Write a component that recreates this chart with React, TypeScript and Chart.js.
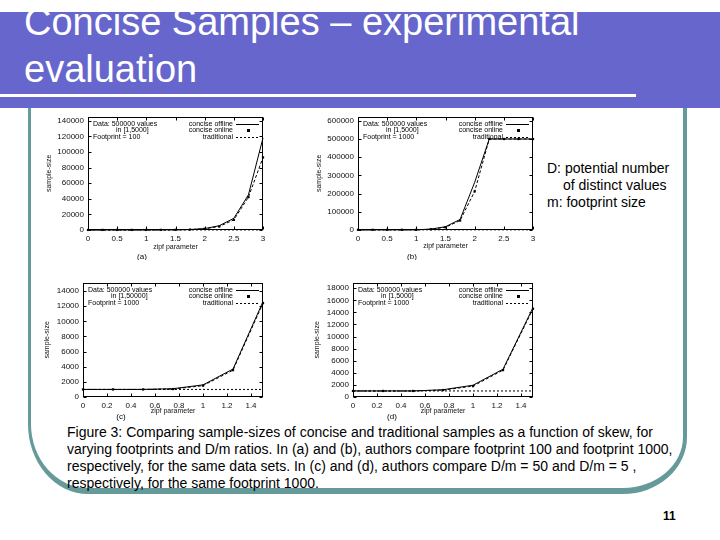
import React, { useEffect, useRef } from "react";
import { Chart, registerables } from "chart.js";
Chart.register(...registerables);

const FONT = "'Liberation Sans', Arial, Helvetica, sans-serif";

// ---- shared labels ----
const legendLabels = ["concise offline", "concise online", "traditional"];
const xAxisTitle = "zipf parameter";
const yAxisTitle = "sample-size";

// ---- panel (a) ----
const zipfAB = [0, 0.25, 0.5, 0.75, 1, 1.25, 1.5, 1.75, 2, 2.25, 2.5, 2.75, 3];
const offlineA = [100, 100, 100, 100, 110, 150, 250, 600, 1800, 5500, 15000, 45000, 118000];
const onlineA = [100, 100, 100, 100, 110, 150, 250, 550, 1600, 4500, 13000, 42000, 93000];
const traditionalA = [100, 100, 100, 100, 100, 100, 100, 100, 100, 100, 100, 100, 100];
const xTicksAB = [0, 0.5, 1, 1.5, 2, 2.5, 3];
const yTicksA = [0, 20000, 40000, 60000, 80000, 100000, 120000, 140000];
const notesA = ["Data: 500000 values", "in [1,5000]", "Footprint = 100"];

// ---- panel (b) ----
const offlineB = [1000, 1000, 1000, 1000, 1200, 5000, 18000, 58000, 262000, 500000, 500000, 500000, 500000];
const onlineB = [1000, 1000, 1000, 1000, 1100, 4000, 15000, 52000, 212000, 500000, 500000, 500000, 500000];
const traditionalB = [1000, 1000, 1000, 1000, 1000, 1000, 1000, 1000, 1000, 1000, 1000, 1000, 1000];
const yTicksB = [0, 100000, 200000, 300000, 400000, 500000, 600000];
const notesB = ["Data: 500000 values", "in [1,5000]", "Footprint = 1000"];

// ---- panel (c) ----
const zipfCD = [0, 0.25, 0.5, 0.75, 1, 1.25, 1.5];
const offlineC = [1000, 1000, 1000, 1100, 1600, 3700, 12600];
const onlineC = [1000, 1000, 1000, 1050, 1500, 3550, 12400];
const traditionalC = [1000, 1000, 1000, 1000, 1000, 1000, 1000];
const xTicksCD = [0, 0.2, 0.4, 0.6, 0.8, 1, 1.2, 1.4];
const yTicksC = [0, 2000, 4000, 6000, 8000, 10000, 12000, 14000];
const notesC = ["Data: 500000 values", "in [1,50000]", "Footprint = 1000"];

// ---- panel (d) ----
const offlineD = [1000, 1000, 1000, 1200, 1950, 4600, 14800];
const onlineD = [1000, 1000, 1000, 1150, 1800, 4450, 14600];
const traditionalD = [1000, 1000, 1000, 1000, 1000, 1000, 1000];
const yTicksD = [0, 2000, 4000, 6000, 8000, 10000, 12000, 14000, 16000, 18000];
const notesD = ["Data: 500000 values", "in [1,5000]", "Footprint = 1000"];

const captionLines = [
  "Figure 3: Comparing sample-sizes of concise and traditional samples as a function of skew, for",
  "varying footprints and D/m ratios. In (a) and (b), authors compare footprint 100 and footprint 1000,",
  "respectively, for the same data sets. In (c) and (d), authors compare D/m = 50 and D/m = 5 ,",
  "respectively, for the same footprint 1000.",
];

type Box = { left: number; top: number; width: number; height: number };
type Area = { l: number; t: number; r: number; b: number };

type PanelProps = {
  box: Box;
  area: Area;
  xs: number[];
  offline: number[];
  online: number[];
  traditional: number[];
  xMax: number;
  yMax: number;
  xTicks: number[];
  yTicks: number[];
  notes: string[];
  tag: string;
  tagPos: [number, number];
  yTitleX: number;
  xTitleY: number;
};

function Panel(p: PanelProps) {
  const ref = useRef<HTMLCanvasElement | null>(null);
  useEffect(() => {
    const cv = ref.current;
    if (!cv) return;
    const { box, area } = p;
    const pts = (ys: number[]) => p.xs.map((x, i) => ({ x, y: ys[i] }));
    const decor = {
      id: "decor",
      afterDatasetsDraw(chart: any) {
        const ctx = chart.ctx as CanvasRenderingContext2D;
        const a = chart.chartArea;
        const sx = chart.scales.x;
        const sy = chart.scales.y;
        ctx.save();
        ctx.strokeStyle = "#000";
        ctx.lineWidth = 1;
        ctx.setLineDash([]);
        const L = Math.round(a.left) + 0.5;
        const T = Math.round(a.top) + 0.5;
        const R = Math.round(a.right) - 0.5;
        const B = Math.round(a.bottom) - 0.5;
        ctx.strokeRect(L, T, R - L, B - T);
        ctx.beginPath();
        for (const v of p.xTicks) {
          const px = Math.round(sx.getPixelForValue(v)) + 0.5;
          ctx.moveTo(px, B);
          ctx.lineTo(px, B - 3);
          ctx.moveTo(px, T);
          ctx.lineTo(px, T + 3);
        }
        for (const v of p.yTicks) {
          const py = Math.round(sy.getPixelForValue(v)) + 0.5;
          ctx.moveTo(L, py);
          ctx.lineTo(L + 3, py);
          ctx.moveTo(R, py);
          ctx.lineTo(R - 3, py);
        }
        ctx.stroke();
        // legend
        ctx.fillStyle = "#000";
        ctx.font = `7px ${FONT}`;
        ctx.textBaseline = "middle";
        ctx.textAlign = "right";
        const rowY = (i: number) => a.top + 7 + i * 6.4;
        legendLabels.forEach((lab, i) => ctx.fillText(lab, a.right - 30, rowY(i)));
        const s1 = a.right - 27;
        const s2 = a.right - 4;
        ctx.beginPath();
        ctx.moveTo(s1, Math.round(rowY(0)) + 0.5);
        ctx.lineTo(s2, Math.round(rowY(0)) + 0.5);
        ctx.stroke();
        ctx.fillRect(Math.round((s1 + s2) / 2) - 1, Math.round(rowY(1)) - 1, 3, 3);
        ctx.setLineDash([2, 2]);
        ctx.beginPath();
        ctx.moveTo(s1, Math.round(rowY(2)) + 0.5);
        ctx.lineTo(s2, Math.round(rowY(2)) + 0.5);
        ctx.stroke();
        ctx.setLineDash([]);
        // notes
        ctx.textAlign = "left";
        ctx.fillText(p.notes[0], a.left + 5, rowY(0));
        ctx.fillText(p.notes[1], a.left + 28, rowY(1));
        ctx.fillText(p.notes[2], a.left + 5, rowY(2));
        // sub-figure tag
        ctx.textAlign = "center";
        ctx.font = `8px ${FONT}`;
        ctx.fillText(p.tag, p.tagPos[0] - box.left, p.tagPos[1] - box.top);
        ctx.restore();
      },
    };
    const tickFont = { family: FONT, size: 8 };
    const titleFont = { family: FONT, size: 7 };
    const chart = new Chart(cv, {
      type: "scatter",
      data: {
        datasets: [
          {
            label: legendLabels[0],
            data: pts(p.offline),
            showLine: true,
            borderColor: "#000",
            borderWidth: 1,
            pointRadius: 0,
            clip: false,
          },
          {
            label: legendLabels[1],
            data: pts(p.online),
            showLine: true,
            borderColor: "#000",
            borderWidth: 1,
            borderDash: [3, 2],
            pointStyle: "rect",
            pointRadius: 1.6,
            pointBackgroundColor: "#000",
            pointBorderColor: "#000",
            pointBorderWidth: 0,
            clip: false,
          },
          {
            label: legendLabels[2],
            data: pts(p.traditional),
            showLine: true,
            borderColor: "#000",
            borderWidth: 1,
            borderDash: [2, 2],
            pointRadius: 0,
            clip: false,
          },
        ],
      } as any,
      options: {
        responsive: false,
        animation: false,
        events: [],
        layout: {
          padding: {
            left: 0,
            top: area.t - box.top,
            right: box.left + box.width - area.r,
            bottom: 0,
          },
        },
        plugins: { legend: { display: false }, tooltip: { enabled: false } },
        scales: {
          x: {
            type: "linear",
            min: 0,
            max: p.xMax,
            afterBuildTicks: (s: any) => {
              s.ticks = p.xTicks.map((v) => ({ value: v }));
            },
            afterFit: (s: any) => {
              s.height = box.top + box.height - area.b;
            },
            grid: { display: false, drawTicks: false, tickLength: 0 },
            border: { display: false },
            ticks: {
              font: tickFont,
              color: "#111",
              padding: 4,
              maxRotation: 0,
              autoSkip: false,
              callback: (v: any) => String(v),
            },
            title: {
              display: true,
              text: xAxisTitle,
              font: titleFont,
              color: "#111",
              padding: { top: 0, bottom: box.top + box.height - p.xTitleY - 4.2 },
            },
          },
          y: {
            type: "linear",
            min: 0,
            max: p.yMax,
            afterBuildTicks: (s: any) => {
              s.ticks = p.yTicks.map((v) => ({ value: v }));
            },
            afterFit: (s: any) => {
              s.width = area.l - box.left;
            },
            grid: { display: false, drawTicks: false, tickLength: 0 },
            border: { display: false },
            ticks: {
              font: tickFont,
              color: "#111",
              padding: 4,
              autoSkip: false,
              callback: (v: any) => String(v),
            },
            title: {
              display: true,
              text: yAxisTitle,
              font: titleFont,
              color: "#111",
              padding: { top: p.yTitleX - box.left - 4.2, bottom: 0 },
            },
          },
        },
      } as any,
      plugins: [decor],
    });
    return () => chart.destroy();
  }, []);
  return (
    <canvas
      ref={ref}
      width={p.box.width}
      height={p.box.height}
      style={{
        position: "absolute",
        left: p.box.left,
        top: p.box.top,
        width: p.box.width,
        height: p.box.height,
      }}
    />
  );
}

export default function App() {
  const blue = "#6666cc";
  const teal = "#669999";
  return (
    <div
      style={{
        position: "absolute",
        left: 0,
        top: 0,
        width: 720,
        height: 540,
        background: "#fff",
        overflow: "hidden",
        fontFamily: FONT,
      }}
    >
      <div style={{ position: "absolute", left: 0, top: 12, width: 720, height: 96, background: blue }} />
      <div style={{ position: "absolute", left: 0, top: 94, width: 636, height: 3, background: "#fff" }} />
      <div
        style={{
          position: "absolute",
          left: 24,
          top: -1,
          color: "#fff",
          fontSize: 38,
          lineHeight: "47px",
          whiteSpace: "nowrap",
        }}
      >
        <div>Concise Samples – experimental</div>
        <div>evaluation</div>
      </div>
      <div
        style={{
          position: "absolute",
          left: 28,
          top: 108,
          width: 687 - 28,
          height: 494 - 108,
          boxSizing: "border-box",
          borderLeft: `3px solid ${teal}`,
          borderRight: `4px solid ${teal}`,
          borderBottom: `6px solid ${teal}`,
          borderBottomLeftRadius: "60px 70px",
          borderBottomRightRadius: "64px 57px",
        }}
      />
      <Panel
        box={{ left: 40, top: 108, width: 232, height: 152 }}
        area={{ l: 88, t: 116, r: 263, b: 230 }}
        xs={zipfAB}
        offline={offlineA}
        online={onlineA}
        traditional={traditionalA}
        xMax={3}
        yMax={145000}
        xTicks={xTicksAB}
        yTicks={yTicksA}
        notes={notesA}
        tag="(a)"
        tagPos={[142, 257]}
        yTitleX={49}
        xTitleY={247}
      />
      <Panel
        box={{ left: 310, top: 108, width: 232, height: 152 }}
        area={{ l: 358, t: 116, r: 533, b: 230 }}
        xs={zipfAB}
        offline={offlineB}
        online={onlineB}
        traditional={traditionalB}
        xMax={3}
        yMax={622000}
        xTicks={xTicksAB}
        yTicks={yTicksB}
        notes={notesB}
        tag="(b)"
        tagPos={[412, 257]}
        yTitleX={319}
        xTitleY={246}
      />
      <Panel
        box={{ left: 40, top: 274, width: 232, height: 148 }}
        area={{ l: 83, t: 282, r: 263, b: 397 }}
        xs={zipfCD}
        offline={offlineC}
        online={onlineC}
        traditional={traditionalC}
        xMax={1.5}
        yMax={15100}
        xTicks={xTicksCD}
        yTicks={yTicksC}
        notes={notesC}
        tag="(c)"
        tagPos={[121, 417]}
        yTitleX={47}
        xTitleY={411}
      />
      <Panel
        box={{ left: 310, top: 274, width: 232, height: 148 }}
        area={{ l: 353, t: 281, r: 533, b: 397 }}
        xs={zipfCD}
        offline={offlineD}
        online={onlineD}
        traditional={traditionalD}
        xMax={1.5}
        yMax={18900}
        xTicks={xTicksCD}
        yTicks={yTicksD}
        notes={notesD}
        tag="(d)"
        tagPos={[392, 417]}
        yTitleX={317}
        xTitleY={411}
      />
      <div
        style={{
          position: "absolute",
          left: 547,
          top: 159.5,
          fontSize: 14,
          lineHeight: "17px",
          color: "#000",
          whiteSpace: "nowrap",
        }}
      >
        <div>D: potential number</div>
        <div style={{ paddingLeft: 16 }}>of distinct values</div>
        <div>m: footprint size</div>
      </div>
      <div
        style={{
          position: "absolute",
          left: 67,
          top: 423.5,
          fontSize: 14,
          lineHeight: "17.3px",
          color: "#000",
          whiteSpace: "nowrap",
        }}
      >
        {captionLines.map((t, i) => (
          <div key={i}>{t}</div>
        ))}
      </div>
      <div
        style={{
          position: "absolute",
          left: 663,
          top: 508,
          fontSize: 12,
          fontWeight: "bold",
          lineHeight: "16px",
          color: "#000",
        }}
      >
        11
      </div>
    </div>
  );
}
